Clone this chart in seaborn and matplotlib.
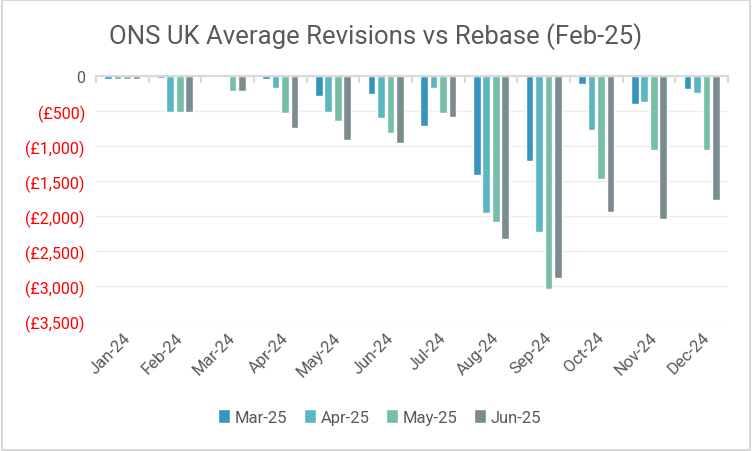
import pandas as pd
import seaborn as sns
import matplotlib.pyplot as plt
from matplotlib.ticker import FuncFormatter, FixedLocator
from matplotlib.patches import Rectangle

# Data (values in GBP, negative = downward revision)
months = ["Jan-24", "Feb-24", "Mar-24", "Apr-24", "May-24", "Jun-24",
          "Jul-24", "Aug-24", "Sep-24", "Oct-24", "Nov-24", "Dec-24"]
mar25 = [-45, -25, 0, -45, -280, -250, -710, -1410, -1210, -110, -395, -180]
apr25 = [-45, -520, 0, -165, -510, -595, -165, -1955, -2225, -775, -375, -240]
may25 = [-45, -520, -210, -535, -640, -810, -525, -2080, -3040, -1470, -1060, -1060]
jun25 = [-45, -520, -210, -740, -910, -950, -580, -2335, -2880, -1940, -2040, -1770]
series = ["Mar-25", "Apr-25", "May-25", "Jun-25"]
colors = ["#3595BC", "#5AB6C1", "#76BEA6", "#7A8C8E"]

rows = []
for name, vals in zip(series, [mar25, apr25, may25, jun25]):
    for m, v in zip(months, vals):
        rows.append({"month": m, "series": name, "value": v})
df = pd.DataFrame(rows)

sns.set_theme(style="white")
plt.rcParams["font.family"] = ["Roboto", "DejaVu Sans"]
text_grey = "#595959"

fig = plt.figure(figsize=(7.52, 4.52), dpi=100)
ax = fig.add_axes([0.1277, 0.2876, 0.8404, 0.542])

sns.barplot(data=df, x="month", y="value", hue="series", order=months,
            hue_order=series, palette=colors, width=0.72, gap=0.2,
            saturation=1, ax=ax, legend=True)

ax.set_ylim(-3500, 0)
ax.set_xlim(-0.5, len(months) - 0.5)
ax.set_yticks(range(-3500, 1, 500))
ax.yaxis.set_major_formatter(FuncFormatter(
    lambda v, p: "0" if v == 0 else f"(£{abs(int(v)):,})"))
ax.yaxis.grid(True, color="#EDEDED", lw=1)
ax.set_axisbelow(True)
ax.set_xlabel("")
ax.set_ylabel("")

for s in ["left", "right", "bottom"]:
    ax.spines[s].set_visible(False)
ax.spines["top"].set_color("#D9D9D9")
ax.spines["top"].set_linewidth(1.5)

# category boundary ticks hanging from the zero line
ax.xaxis.set_minor_locator(FixedLocator([i - 0.5 for i in range(len(months) + 1)]))
ax.tick_params(axis="x", which="minor", top=True, bottom=False, direction="in",
               length=5, width=1.5, color="#D9D9D9")
ax.tick_params(axis="x", which="major", length=0, pad=6, labelsize=12,
               labelcolor=text_grey)
ax.tick_params(axis="y", length=0, pad=8, labelsize=11.5)
plt.setp(ax.get_xticklabels(), rotation=45, ha="right", rotation_mode="anchor")
for lbl in ax.get_yticklabels():
    lbl.set_color(text_grey if lbl.get_text() == "0" else "red")

handles, labels = ax.get_legend_handles_labels()
ax.get_legend().remove()
fig.legend(handles, labels, loc="center", bbox_to_anchor=(0.505, 0.075), ncol=4,
           frameon=False, fontsize=12, handlelength=0.7, handleheight=0.9,
           handletextpad=0.3, columnspacing=1.0, labelcolor=text_grey)

fig.text(0.5, 0.918, "ONS UK Average Revisions vs Rebase (Feb-25)", ha="center",
         va="center", fontsize=18.5, color=text_grey)

fig.patches.append(Rectangle((0.002, 0.003), 0.996, 0.994, transform=fig.transFigure,
                             fill=False, edgecolor="#D9D9D9", lw=1.5))

fig.savefig("out.png", dpi=100)
